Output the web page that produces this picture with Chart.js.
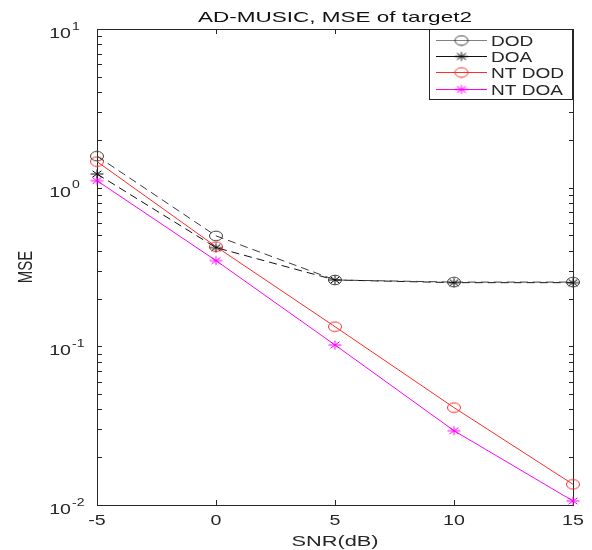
<!DOCTYPE html>
<html>
<head>
<meta charset="utf-8">
<script src="https://cdn.jsdelivr.net/npm/chart.js@4/dist/chart.umd.min.js"></script>
<style>
  body { margin: 0; background: #fff; }
</style>
</head>
<body>
<canvas id="chart" width="592" height="550"></canvas>
<script>
// values
var snr   = [-5, 0, 5, 10, 15];
var dod   = [1.58, 0.497, 0.262, 0.254, 0.254];
var doa   = [1.22, 0.419, 0.262, 0.252, 0.252];
var ntDod = [1.46, 0.425, 0.133, 0.0411, 0.0135];
var ntDoa = [1.107, 0.347, 0.102, 0.0294, 0.0106];

var xTicks = [-5, 0, 5, 10, 15];
var yTicks = [0.01, 0.1, 1, 10];
var yExps  = ['-2', '-1', '0', '1'];

var FONT = "'Liberation Sans', Arial, sans-serif";
var INK = '#262626';
var SX = 1.4;   // the reference is stretched sideways, text and markers too

var pts = function(ys) {
    return snr.map(function(x, i) { return {x: x, y: ys[i]}; });
};

// wide ellipse / asterisk markers as small canvases
var marker = function(kind, color) {
    var c = document.createElement('canvas');
    c.width = 16; c.height = 12;
    var g = c.getContext('2d');
    g.strokeStyle = color;
    g.lineWidth = 1;
    g.beginPath();
    if (kind == 'o') {
        g.ellipse(8, 6, 6.5, 4.8, 0, 0, Math.PI * 2);
    } else {
        g.moveTo(1.5, 6); g.lineTo(14.5, 6);
        g.moveTo(8, 1.5); g.lineTo(8, 10.5);
        g.moveTo(3.5, 2.8); g.lineTo(12.5, 9.2);
        g.moveTo(3.5, 9.2); g.lineTo(12.5, 2.8);
    }
    g.stroke();
    return c;
};

var text = function(ctx, str, x, y, size, align, sx) {
    ctx.save();
    ctx.font = size + 'px ' + FONT;
    ctx.translate(x, y);
    ctx.scale(sx || SX, 1);
    ctx.textAlign = align;
    ctx.textBaseline = 'alphabetic';
    ctx.fillText(str, 0, 0);
    ctx.restore();
};

// box, inward ticks, tick labels and titles
var frame = {
    id: 'frame',
    beforeDatasetsDraw: function(chart) {
        var ctx = chart.ctx;
        var a = chart.chartArea;
        var xs = chart.scales.x, ys = chart.scales.y;
        var L = Math.round(a.left), R = Math.round(a.right);
        var T = Math.round(a.top), B = Math.round(a.bottom);
        var len = 5;

        ctx.save();
        ctx.fillStyle = INK;
        ctx.fillRect(L, T, R - L, 1);
        ctx.fillRect(L, B, R - L + 1, 1);
        ctx.fillRect(L, T, 1, B - T);
        ctx.fillRect(R, T, 1, B - T);

        xTicks.forEach(function(v) {
            var px = Math.round(xs.getPixelForValue(v));
            ctx.fillRect(px, B - len, 1, len);
            ctx.fillRect(px, T, 1, len);
        });
        for (var e = -2; e < 1; e++) {
            for (var d = 1; d <= 9; d++) {
                var py = Math.round(ys.getPixelForValue(d * Math.pow(10, e)));
                ctx.fillRect(L, py, len, 1);
                ctx.fillRect(R - len + 1, py, len, 1);
            }
        }

        yTicks.forEach(function(v, i) {
            var py = ys.getPixelForValue(v);
            text(ctx, '10', 71, py + 9, 14, 'right');
            text(ctx, yExps[i], 72, py + 0.5, 10, 'left');
        });
        xTicks.forEach(function(v) {
            text(ctx, String(v), xs.getPixelForValue(v), 525, 14, 'center');
        });

        var cx = (a.left + a.right) / 2;
        ctx.fillStyle = '#111';
        text(ctx, 'AD-MUSIC, MSE of target2', cx, 22, 15, 'center', 1.5);
        ctx.fillStyle = INK;
        text(ctx, 'SNR(dB)', cx, 546, 15, 'center', 1.45);

        ctx.save();
        ctx.font = '15px ' + FONT;
        ctx.translate(26, (a.top + a.bottom) / 2);
        ctx.scale(SX, 1);
        ctx.rotate(-Math.PI / 2);
        ctx.textAlign = 'center';
        ctx.textBaseline = 'middle';
        ctx.fillText('MSE', 0, 0);
        ctx.restore();

        ctx.restore();
    }
};

var legendBox = {
    id: 'legendBox',
    afterDatasetsDraw: function(chart) {
        var ctx = chart.ctx;
        var x0 = 429, y0 = 29, w = 143, h = 70;
        var rows = [40, 56, 72, 89];
        ctx.save();
        ctx.fillStyle = '#fff';
        ctx.fillRect(x0, y0, w, h);
        ctx.fillStyle = INK;
        ctx.fillRect(x0, y0, w, 1);
        ctx.fillRect(x0, y0 + h, w + 1, 1);
        ctx.fillRect(x0, y0, 1, h);
        ctx.fillRect(x0 + w, y0, 1, h);

        chart.data.datasets.forEach(function(ds, i) {
            var y = rows[i];
            ctx.fillStyle = ds.legendColor || ds.borderColor;
            ctx.fillRect(436, y, 51, 1);
            Chart.helpers.drawPoint(ctx, {
                pointStyle: ds.pointStyle,
                radius: 5,
                borderWidth: 1
            }, 461.5, y + 0.5);
            ctx.fillStyle = INK;
            text(ctx, ds.label, 491, y + 5.5, 14, 'left', 1.36);
        });
        ctx.restore();
    }
};

new Chart(document.getElementById('chart'), {
    type: 'line',
    data: {
        datasets: [
            {
                label: 'DOD',
                data: pts(dod),
                borderColor: '#3a3a3a',
                legendColor: '#808080',
                borderDash: [8, 5],
                pointStyle: marker('o', '#3a3a3a')
            }, {
                label: 'DOA',
                data: pts(doa),
                borderColor: '#111',
                borderDash: [8, 5],
                pointStyle: marker('*', '#111')
            }, {
                label: 'NT DOD',
                data: pts(ntDod),
                borderColor: '#ff2a2a',
                pointStyle: marker('o', '#ff2a2a')
            }, {
                label: 'NT DOA',
                data: pts(ntDoa),
                borderColor: '#ff00ff',
                pointStyle: marker('*', '#ff00ff')
            }
        ].map(function(ds) {
            ds.borderWidth = 1;
            ds.tension = 0;
            ds.clip = false;
            ds.pointRadius = 5;
            ds.pointHoverRadius = 5;
            return ds;
        })
    },
    options: {
        responsive: false,
        animation: false,
        events: [],
        layout: { padding: { left: 97, right: 19, top: 29, bottom: 45 } },
        plugins: {
            legend: { display: false },
            tooltip: { enabled: false },
            title: { display: false }
        },
        scales: {
            x: {
                type: 'linear',
                display: false,
                min: -5,
                max: 15,
                offset: false
            },
            y: {
                type: 'logarithmic',
                display: false,
                min: 0.01,
                max: 10
            }
        }
    },
    plugins: [frame, legendBox]
});
</script>
</body>
</html>
